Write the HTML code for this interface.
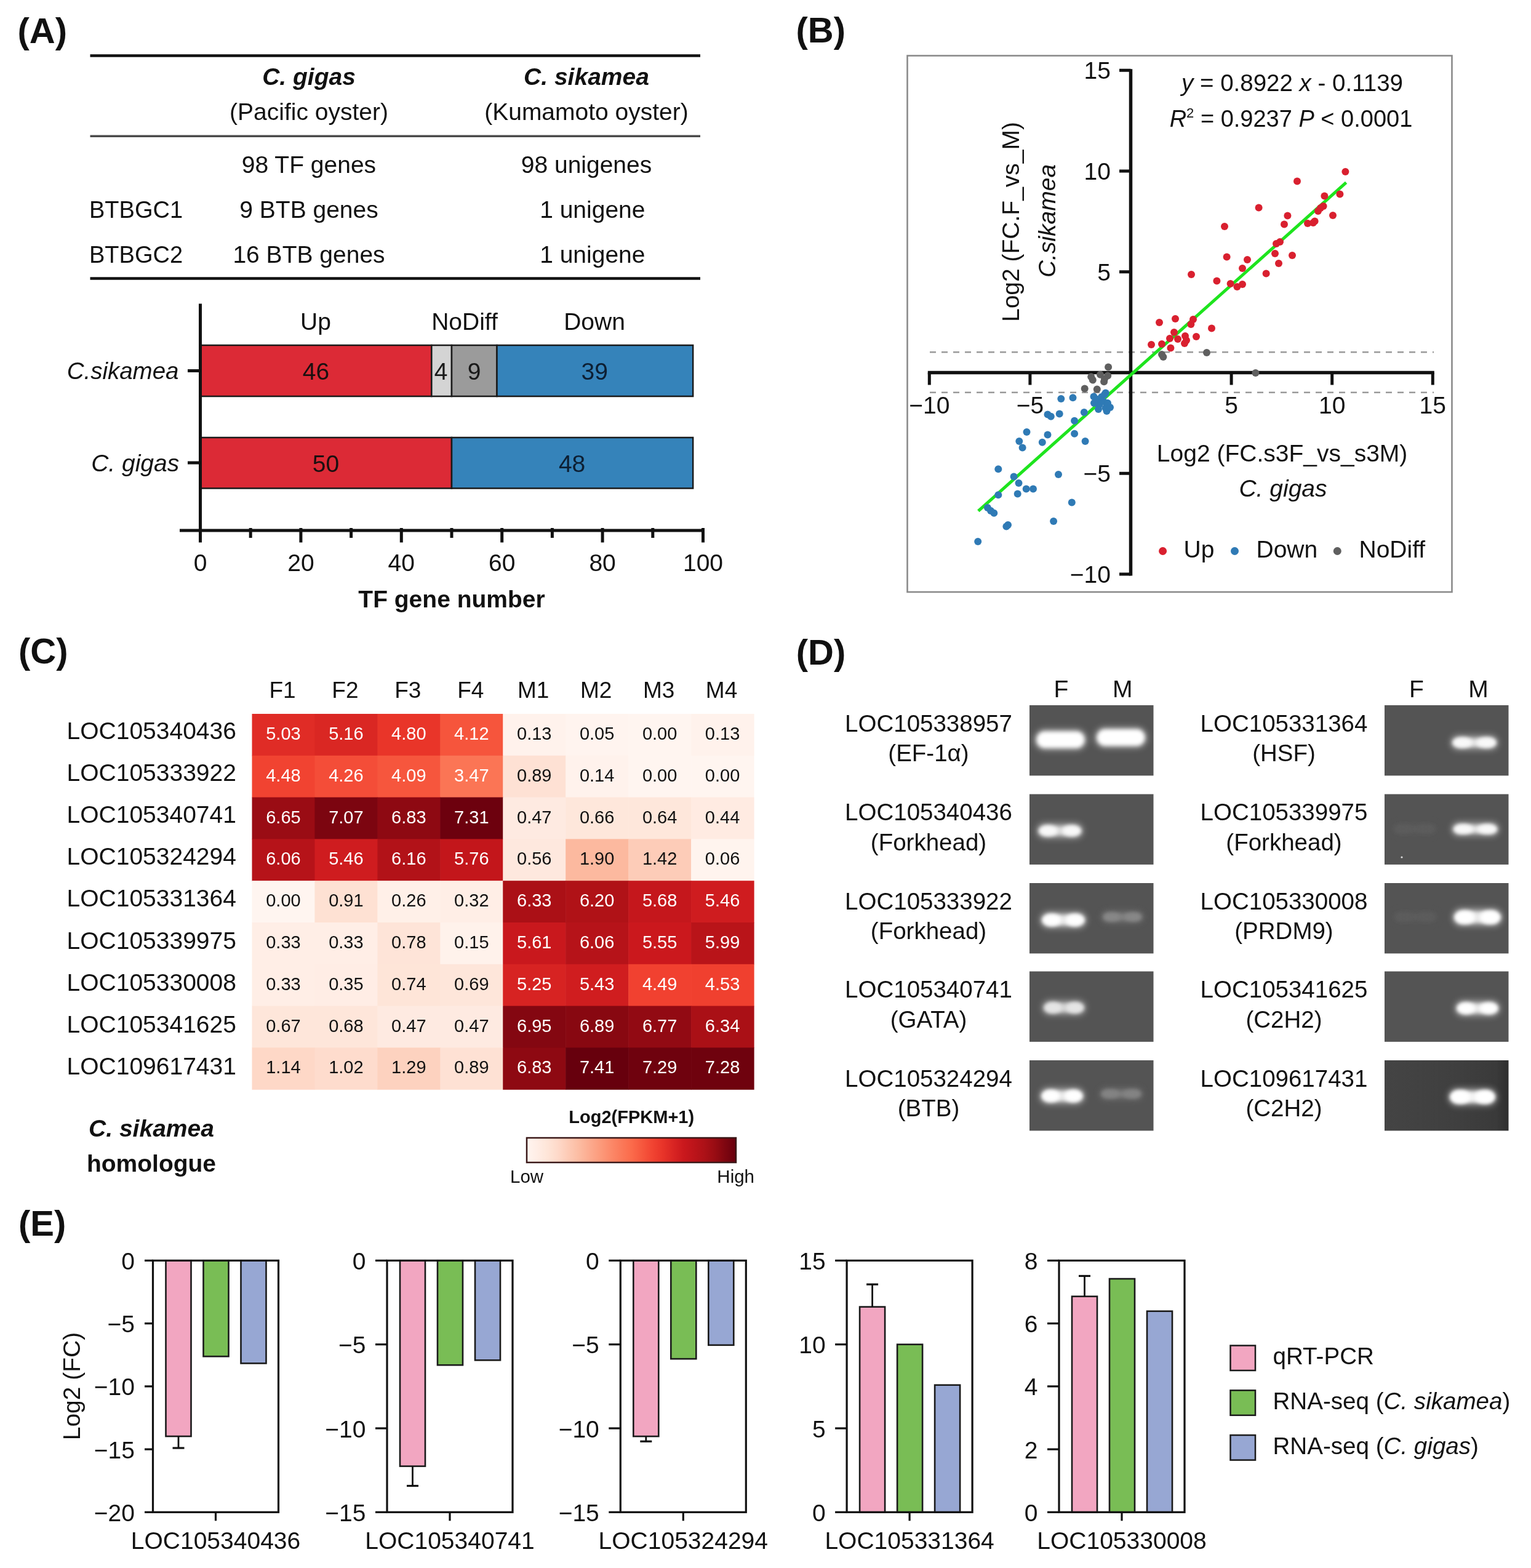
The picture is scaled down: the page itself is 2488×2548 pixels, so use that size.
<!DOCTYPE html>
<html><head><meta charset="utf-8"><title>Figure</title>
<style>
html,body{margin:0;padding:0;background:#fff;}
body{width:2488px;height:2548px;overflow:hidden;}
svg text{font-family:'Liberation Sans', Arial, Helvetica, sans-serif;}
</style></head>
<body>
<svg width="2488" height="2548" viewBox="0 0 2488 2548" style="display:block">
<rect x="0" y="0" width="2488" height="2548" fill="#fff"/>
<text x="28.5" y="69.5" font-size="58" text-anchor="start" font-weight="bold" fill="#111">(A)</text>
<line x1="146.5" y1="90.5" x2="1138" y2="90.5" stroke="#111" stroke-width="4.5"/>
<line x1="146.5" y1="221.25" x2="1138" y2="221.25" stroke="#4a4a4a" stroke-width="3.5"/>
<line x1="146.5" y1="452.5" x2="1138" y2="452.5" stroke="#111" stroke-width="4.5"/>
<text x="502" y="137.5" font-size="39" text-anchor="middle" font-weight="bold" font-style="italic" fill="#111">C. gigas</text>
<text x="953" y="137.5" font-size="39" text-anchor="middle" font-weight="bold" font-style="italic" fill="#111">C. sikamea</text>
<text x="502" y="195" font-size="39" text-anchor="middle" fill="#111">(Pacific oyster)</text>
<text x="953" y="195" font-size="39" text-anchor="middle" fill="#111">(Kumamoto oyster)</text>
<text x="502" y="281" font-size="39" text-anchor="middle" fill="#111">98 TF genes</text>
<text x="953" y="281" font-size="39" text-anchor="middle" fill="#111">98 unigenes</text>
<text x="145" y="353.75" font-size="38" text-anchor="start" fill="#111">BTBGC1</text>
<text x="502" y="353.75" font-size="39" text-anchor="middle" fill="#111">9 BTB genes</text>
<text x="962.8" y="353.75" font-size="39" text-anchor="middle" fill="#111">1 unigene</text>
<text x="145" y="426.75" font-size="38" text-anchor="start" fill="#111">BTBGC2</text>
<text x="502" y="426.75" font-size="39" text-anchor="middle" fill="#111">16 BTB genes</text>
<text x="962.8" y="426.75" font-size="39" text-anchor="middle" fill="#111">1 unigene</text>
<rect x="325.5" y="561" width="375.81999999999994" height="83" fill="#dc2a36" stroke="#1a1a1a" stroke-width="2.5"/>
<rect x="701.3199999999999" y="561" width="32.680000000000064" height="83" fill="#d4d4d4" stroke="#1a1a1a" stroke-width="2.5"/>
<rect x="734.0" y="561" width="73.52999999999997" height="83" fill="#9b9b9b" stroke="#1a1a1a" stroke-width="2.5"/>
<rect x="807.53" y="561" width="318.6299999999999" height="83" fill="#3583ba" stroke="#1a1a1a" stroke-width="2.5"/>
<rect x="325.5" y="711" width="408.5" height="82.5" fill="#dc2a36" stroke="#1a1a1a" stroke-width="2.5"/>
<rect x="734.0" y="711" width="392.15999999999985" height="82.5" fill="#3583ba" stroke="#1a1a1a" stroke-width="2.5"/>
<text x="513.5" y="617" font-size="39" text-anchor="middle" fill="#1a1010">46</text>
<text x="716.6" y="617" font-size="39" text-anchor="middle" fill="#1a1a1a">4</text>
<text x="770.7" y="617" font-size="39" text-anchor="middle" fill="#1a1a1a">9</text>
<text x="966.3" y="617" font-size="39" text-anchor="middle" fill="#0d1f33">39</text>
<text x="529.4" y="766.5" font-size="39" text-anchor="middle" fill="#1a1010">50</text>
<text x="929.6" y="766.5" font-size="39" text-anchor="middle" fill="#0d1f33">48</text>
<text x="513" y="535.7" font-size="39" text-anchor="middle" fill="#111">Up</text>
<text x="755" y="535.7" font-size="39" text-anchor="middle" fill="#111">NoDiff</text>
<text x="966" y="535.7" font-size="39" text-anchor="middle" fill="#111">Down</text>
<line x1="325.5" y1="493.5" x2="325.5" y2="863" stroke="#111" stroke-width="5"/>
<line x1="292" y1="862" x2="1143" y2="862" stroke="#111" stroke-width="5"/>
<line x1="325.5" y1="858" x2="325.5" y2="881.5" stroke="#111" stroke-width="5"/>
<text x="325.5" y="928" font-size="39" text-anchor="middle" fill="#111">0</text>
<line x1="407.2" y1="858" x2="407.2" y2="874" stroke="#111" stroke-width="5"/>
<line x1="488.9" y1="858" x2="488.9" y2="881.5" stroke="#111" stroke-width="5"/>
<text x="488.9" y="928" font-size="39" text-anchor="middle" fill="#111">20</text>
<line x1="570.6" y1="858" x2="570.6" y2="874" stroke="#111" stroke-width="5"/>
<line x1="652.3" y1="858" x2="652.3" y2="881.5" stroke="#111" stroke-width="5"/>
<text x="652.3" y="928" font-size="39" text-anchor="middle" fill="#111">40</text>
<line x1="734.0" y1="858" x2="734.0" y2="874" stroke="#111" stroke-width="5"/>
<line x1="815.7" y1="858" x2="815.7" y2="881.5" stroke="#111" stroke-width="5"/>
<text x="815.7" y="928" font-size="39" text-anchor="middle" fill="#111">60</text>
<line x1="897.4" y1="858" x2="897.4" y2="874" stroke="#111" stroke-width="5"/>
<line x1="979.1" y1="858" x2="979.1" y2="881.5" stroke="#111" stroke-width="5"/>
<text x="979.1" y="928" font-size="39" text-anchor="middle" fill="#111">80</text>
<line x1="1060.8" y1="858" x2="1060.8" y2="874" stroke="#111" stroke-width="5"/>
<line x1="1142.5" y1="858" x2="1142.5" y2="881.5" stroke="#111" stroke-width="5"/>
<text x="1142.5" y="928" font-size="39" text-anchor="middle" fill="#111">100</text>
<line x1="305" y1="602.5" x2="326" y2="602.5" stroke="#111" stroke-width="5"/>
<line x1="305" y1="752" x2="326" y2="752" stroke="#111" stroke-width="5"/>
<text x="290.5" y="616.25" font-size="38.5" text-anchor="end" font-style="italic" fill="#111">C.sikamea</text>
<text x="291.25" y="766.25" font-size="39" text-anchor="end" font-style="italic" fill="#111">C. gigas</text>
<text x="734" y="986.5" font-size="39" text-anchor="middle" font-weight="bold" fill="#111">TF gene number</text>
<text x="1293.5" y="69" font-size="58" text-anchor="start" font-weight="bold" fill="#111">(B)</text>
<rect x="1474.5" y="90.5" width="885" height="871.5" fill="none" stroke="#8a8a8a" stroke-width="2.6"/>
<line x1="1511" y1="572.25" x2="2330" y2="572.25" stroke="#9a9a9a" stroke-width="2.5" stroke-dasharray="10 9"/>
<line x1="1511" y1="637.75" x2="2330" y2="637.75" stroke="#9a9a9a" stroke-width="2.5" stroke-dasharray="10 9"/>
<line x1="1837.5" y1="112.25" x2="1837.5" y2="935.5" stroke="#111" stroke-width="5.5"/>
<line x1="1507.8" y1="605.5" x2="2330.8" y2="605.5" stroke="#111" stroke-width="5.5"/>
<line x1="1819" y1="114.25" x2="1837.5" y2="114.25" stroke="#111" stroke-width="5"/>
<text x="1805" y="128.25" font-size="39" text-anchor="end" fill="#111">15</text>
<line x1="1819" y1="278.0" x2="1837.5" y2="278.0" stroke="#111" stroke-width="5"/>
<text x="1805" y="292.0" font-size="39" text-anchor="end" fill="#111">10</text>
<line x1="1819" y1="441.75" x2="1837.5" y2="441.75" stroke="#111" stroke-width="5"/>
<text x="1805" y="455.75" font-size="39" text-anchor="end" fill="#111">5</text>
<line x1="1819" y1="769.25" x2="1837.5" y2="769.25" stroke="#111" stroke-width="5"/>
<text x="1805" y="783.25" font-size="39" text-anchor="end" fill="#111">−5</text>
<line x1="1819" y1="933.0" x2="1837.5" y2="933.0" stroke="#111" stroke-width="5"/>
<text x="1805" y="947.0" font-size="39" text-anchor="end" fill="#111">−10</text>
<line x1="1510.3" y1="605.5" x2="1510.3" y2="625.5" stroke="#111" stroke-width="5"/>
<text x="1510.3" y="672" font-size="39" text-anchor="middle" fill="#111">−10</text>
<line x1="1673.9" y1="605.5" x2="1673.9" y2="625.5" stroke="#111" stroke-width="5"/>
<text x="1673.9" y="672" font-size="39" text-anchor="middle" fill="#111">−5</text>
<line x1="2001.1" y1="605.5" x2="2001.1" y2="625.5" stroke="#111" stroke-width="5"/>
<text x="2001.1" y="672" font-size="39" text-anchor="middle" fill="#111">5</text>
<line x1="2164.7" y1="605.5" x2="2164.7" y2="625.5" stroke="#111" stroke-width="5"/>
<text x="2164.7" y="672" font-size="39" text-anchor="middle" fill="#111">10</text>
<line x1="2328.3" y1="605.5" x2="2328.3" y2="625.5" stroke="#111" stroke-width="5"/>
<text x="2328.3" y="672" font-size="39" text-anchor="middle" fill="#111">15</text>
<line x1="1589.8096" y1="830.4222185" x2="2187.604" y2="296.58104000000003" stroke="#1ee41e" stroke-width="5" stroke-linecap="butt"/>
<circle cx="1589.2" cy="880" r="6" fill="#2f7ab5"/>
<circle cx="1638" cy="853" r="6" fill="#2f7ab5"/>
<circle cx="1635.4" cy="855.6" r="6" fill="#2f7ab5"/>
<circle cx="1712.1" cy="846.9" r="6" fill="#2f7ab5"/>
<circle cx="1741.8" cy="816.4" r="6" fill="#2f7ab5"/>
<circle cx="1604.9" cy="825.1" r="6" fill="#2f7ab5"/>
<circle cx="1615.3" cy="833.8" r="6" fill="#2f7ab5"/>
<circle cx="1622.3" cy="804.2" r="6" fill="#2f7ab5"/>
<circle cx="1653.7" cy="802.4" r="6" fill="#2f7ab5"/>
<circle cx="1667.7" cy="794.6" r="6" fill="#2f7ab5"/>
<circle cx="1679" cy="794.6" r="6" fill="#2f7ab5"/>
<circle cx="1647.6" cy="774.5" r="6" fill="#2f7ab5"/>
<circle cx="1655.5" cy="785" r="6" fill="#2f7ab5"/>
<circle cx="1622.3" cy="762.3" r="6" fill="#2f7ab5"/>
<circle cx="1720" cy="771" r="6" fill="#2f7ab5"/>
<circle cx="1656.3" cy="717" r="6" fill="#2f7ab5"/>
<circle cx="1661.6" cy="727.4" r="6" fill="#2f7ab5"/>
<circle cx="1668.5" cy="702.1" r="6" fill="#2f7ab5"/>
<circle cx="1702.5" cy="706.5" r="6" fill="#2f7ab5"/>
<circle cx="1693.8" cy="718.7" r="6" fill="#2f7ab5"/>
<circle cx="1746.1" cy="704.8" r="6" fill="#2f7ab5"/>
<circle cx="1763.6" cy="717" r="6" fill="#2f7ab5"/>
<circle cx="1746.1" cy="683.8" r="6" fill="#2f7ab5"/>
<circle cx="1761.8" cy="669.9" r="6" fill="#2f7ab5"/>
<circle cx="1702.5" cy="673.4" r="6" fill="#2f7ab5"/>
<circle cx="1707.8" cy="676.8" r="6" fill="#2f7ab5"/>
<circle cx="1721.7" cy="672.5" r="6" fill="#2f7ab5"/>
<circle cx="1724.3" cy="648.1" r="6" fill="#2f7ab5"/>
<circle cx="1743.5" cy="646.3" r="6" fill="#2f7ab5"/>
<circle cx="1777.5" cy="644.6" r="6" fill="#2f7ab5"/>
<circle cx="1786.3" cy="657.7" r="6" fill="#2f7ab5"/>
<circle cx="1796.7" cy="662.9" r="6" fill="#2f7ab5"/>
<circle cx="1798.5" cy="668.1" r="6" fill="#2f7ab5"/>
<circle cx="1793.2" cy="652.4" r="6" fill="#2f7ab5"/>
<circle cx="1782.8" cy="649" r="6" fill="#2f7ab5"/>
<circle cx="1796.7" cy="638.5" r="6" fill="#2f7ab5"/>
<circle cx="1610" cy="830" r="6" fill="#2f7ab5"/>
<circle cx="1790" cy="645" r="6" fill="#2f7ab5"/>
<circle cx="1800" cy="655" r="6" fill="#2f7ab5"/>
<circle cx="1785" cy="665" r="6" fill="#2f7ab5"/>
<circle cx="1795" cy="641" r="6" fill="#2f7ab5"/>
<circle cx="1778" cy="655" r="6" fill="#2f7ab5"/>
<circle cx="1804" cy="662" r="6" fill="#2f7ab5"/>
<circle cx="1961" cy="573" r="6" fill="#5f5f5f"/>
<circle cx="1888" cy="576" r="6" fill="#5f5f5f"/>
<circle cx="1890.4" cy="580" r="6" fill="#5f5f5f"/>
<circle cx="2040.4" cy="606" r="6" fill="#5f5f5f"/>
<circle cx="1801.1" cy="596.6" r="6" fill="#5f5f5f"/>
<circle cx="1773.2" cy="612.3" r="6" fill="#5f5f5f"/>
<circle cx="1775.8" cy="617.6" r="6" fill="#5f5f5f"/>
<circle cx="1788" cy="608.8" r="6" fill="#5f5f5f"/>
<circle cx="1800.2" cy="610.6" r="6" fill="#5f5f5f"/>
<circle cx="1794.1" cy="620.2" r="6" fill="#5f5f5f"/>
<circle cx="1762.7" cy="631.5" r="6" fill="#5f5f5f"/>
<circle cx="1782.8" cy="632.4" r="6" fill="#5f5f5f"/>
<circle cx="1795" cy="615.8" r="6" fill="#5f5f5f"/>
<circle cx="2186.4" cy="279" r="6" fill="#d9202f"/>
<circle cx="2108" cy="294.6" r="6" fill="#d9202f"/>
<circle cx="2152.4" cy="318.4" r="6" fill="#d9202f"/>
<circle cx="2177.4" cy="315.4" r="6" fill="#d9202f"/>
<circle cx="2045.6" cy="337.6" r="6" fill="#d9202f"/>
<circle cx="2150.6" cy="335" r="6" fill="#d9202f"/>
<circle cx="2142" cy="343" r="6" fill="#d9202f"/>
<circle cx="2092.4" cy="350.6" r="6" fill="#d9202f"/>
<circle cx="2166" cy="350" r="6" fill="#d9202f"/>
<circle cx="2087" cy="364.4" r="6" fill="#d9202f"/>
<circle cx="2136.6" cy="359.4" r="6" fill="#d9202f"/>
<circle cx="2125" cy="363" r="6" fill="#d9202f"/>
<circle cx="1990" cy="368" r="6" fill="#d9202f"/>
<circle cx="2080" cy="393" r="6" fill="#d9202f"/>
<circle cx="2074" cy="396" r="6" fill="#d9202f"/>
<circle cx="2072" cy="412" r="6" fill="#d9202f"/>
<circle cx="2100" cy="415" r="6" fill="#d9202f"/>
<circle cx="1993.6" cy="417.6" r="6" fill="#d9202f"/>
<circle cx="2027" cy="422" r="6" fill="#d9202f"/>
<circle cx="2078" cy="428" r="6" fill="#d9202f"/>
<circle cx="2019" cy="436" r="6" fill="#d9202f"/>
<circle cx="1936" cy="446" r="6" fill="#d9202f"/>
<circle cx="2057.6" cy="444.4" r="6" fill="#d9202f"/>
<circle cx="1977.4" cy="456.6" r="6" fill="#d9202f"/>
<circle cx="1999.6" cy="461" r="6" fill="#d9202f"/>
<circle cx="2010.4" cy="466" r="6" fill="#d9202f"/>
<circle cx="2019" cy="462" r="6" fill="#d9202f"/>
<circle cx="1910" cy="518" r="6" fill="#d9202f"/>
<circle cx="1884" cy="524" r="6" fill="#d9202f"/>
<circle cx="1939" cy="519" r="6" fill="#d9202f"/>
<circle cx="1935.4" cy="527" r="6" fill="#d9202f"/>
<circle cx="1969" cy="533.4" r="6" fill="#d9202f"/>
<circle cx="1908" cy="540" r="6" fill="#d9202f"/>
<circle cx="1944" cy="547" r="6" fill="#d9202f"/>
<circle cx="1926" cy="546" r="6" fill="#d9202f"/>
<circle cx="1901" cy="550" r="6" fill="#d9202f"/>
<circle cx="1914" cy="551" r="6" fill="#d9202f"/>
<circle cx="1928" cy="553" r="6" fill="#d9202f"/>
<circle cx="1925" cy="558" r="6" fill="#d9202f"/>
<circle cx="1871" cy="560" r="6" fill="#d9202f"/>
<circle cx="1888" cy="559" r="6" fill="#d9202f"/>
<circle cx="1902.4" cy="565.4" r="6" fill="#d9202f"/>
<circle cx="2146" cy="338" r="6" fill="#d9202f"/>
<circle cx="2134" cy="362" r="6" fill="#d9202f"/>
<text x="2100" y="148" font-size="38.5" text-anchor="middle" fill="#111"><tspan font-style="italic">y</tspan> = 0.8922 <tspan font-style="italic">x</tspan> - 0.1139</text>
<text x="2098" y="205.5" font-size="38" text-anchor="middle" fill="#111"><tspan font-style="italic">R</tspan><tspan font-size="22" dy="-15">2</tspan><tspan dy="15"> = 0.9237 </tspan><tspan font-style="italic">P</tspan> &lt; 0.0001</text>
<text transform="translate(1656,360.5) rotate(-90)" x="0" y="0" font-size="39" text-anchor="middle" fill="#111">Log2 (FC.F_vs_M)</text>
<text transform="translate(1715,359) rotate(-90)" x="0" y="0" font-size="39" text-anchor="middle" font-style="italic" fill="#111">C.sikamea</text>
<text x="2083.6" y="750" font-size="39" text-anchor="middle" fill="#111">Log2 (FC.s3F_vs_s3M)</text>
<text x="2085" y="807" font-size="39" text-anchor="middle" font-style="italic" fill="#111">C. gigas</text>
<circle cx="1889.6" cy="895.5" r="6.5" fill="#d9202f"/>
<circle cx="2006.5" cy="895.5" r="6.5" fill="#2f7ab5"/>
<circle cx="2173.3" cy="895.5" r="6.5" fill="#5f5f5f"/>
<text x="1923.5" y="905.5" font-size="39" text-anchor="start" fill="#111">Up</text>
<text x="2041.5" y="905.5" font-size="39" text-anchor="start" fill="#111">Down</text>
<text x="2208.5" y="905.5" font-size="39" text-anchor="start" fill="#111">NoDiff</text>
<text x="30" y="1078" font-size="58" text-anchor="start" font-weight="bold" fill="#111">(C)</text>
<text x="458.97" y="1133.5" font-size="37" text-anchor="middle" fill="#111">F1</text>
<text x="560.91" y="1133.5" font-size="37" text-anchor="middle" fill="#111">F2</text>
<text x="662.85" y="1133.5" font-size="37" text-anchor="middle" fill="#111">F3</text>
<text x="764.79" y="1133.5" font-size="37" text-anchor="middle" fill="#111">F4</text>
<text x="866.73" y="1133.5" font-size="37" text-anchor="middle" fill="#111">M1</text>
<text x="968.67" y="1133.5" font-size="37" text-anchor="middle" fill="#111">M2</text>
<text x="1070.6100000000001" y="1133.5" font-size="37" text-anchor="middle" fill="#111">M3</text>
<text x="1172.55" y="1133.5" font-size="37" text-anchor="middle" fill="#111">M4</text>
<text x="108.5" y="1200.5" font-size="39" text-anchor="start" fill="#111">LOC105340436</text>
<rect x="409.50" y="1160.00" width="102.54" height="68.40" fill="#e02c26"/>
<rect x="511.44" y="1160.00" width="102.54" height="68.40" fill="#da2723"/>
<rect x="613.38" y="1160.00" width="102.54" height="68.40" fill="#e93529"/>
<rect x="715.32" y="1160.00" width="102.54" height="68.40" fill="#f6553c"/>
<rect x="817.26" y="1160.00" width="102.54" height="68.40" fill="#fff2ec"/>
<rect x="919.20" y="1160.00" width="102.54" height="68.40" fill="#fff4ef"/>
<rect x="1021.14" y="1160.00" width="102.54" height="68.40" fill="#fff5f0"/>
<rect x="1123.08" y="1160.00" width="102.54" height="68.40" fill="#fff2ec"/>
<text x="108.5" y="1268.7" font-size="39" text-anchor="start" fill="#111">LOC105333922</text>
<rect x="409.50" y="1227.80" width="102.54" height="68.40" fill="#f14331"/>
<rect x="511.44" y="1227.80" width="102.54" height="68.40" fill="#f44d38"/>
<rect x="613.38" y="1227.80" width="102.54" height="68.40" fill="#f6563d"/>
<rect x="715.32" y="1227.80" width="102.54" height="68.40" fill="#fb7555"/>
<rect x="817.26" y="1227.80" width="102.54" height="68.40" fill="#fee1d4"/>
<rect x="919.20" y="1227.80" width="102.54" height="68.40" fill="#fff2ec"/>
<rect x="1021.14" y="1227.80" width="102.54" height="68.40" fill="#fff5f0"/>
<rect x="1123.08" y="1227.80" width="102.54" height="68.40" fill="#fff5f0"/>
<text x="108.5" y="1336.9" font-size="39" text-anchor="start" fill="#111">LOC105340741</text>
<rect x="409.50" y="1295.60" width="102.54" height="68.40" fill="#9a0c14"/>
<rect x="511.44" y="1295.60" width="102.54" height="68.40" fill="#7c0510"/>
<rect x="613.38" y="1295.60" width="102.54" height="68.40" fill="#8e0912"/>
<rect x="715.32" y="1295.60" width="102.54" height="68.40" fill="#6d010e"/>
<rect x="817.26" y="1295.60" width="102.54" height="68.40" fill="#feeae1"/>
<rect x="919.20" y="1295.60" width="102.54" height="68.40" fill="#fee7db"/>
<rect x="1021.14" y="1295.60" width="102.54" height="68.40" fill="#fee7db"/>
<rect x="1123.08" y="1295.60" width="102.54" height="68.40" fill="#ffebe2"/>
<text x="108.5" y="1405.1" font-size="39" text-anchor="start" fill="#111">LOC105324294</text>
<rect x="409.50" y="1363.40" width="102.54" height="68.40" fill="#b61319"/>
<rect x="511.44" y="1363.40" width="102.54" height="68.40" fill="#cf1c1f"/>
<rect x="613.38" y="1363.40" width="102.54" height="68.40" fill="#b21218"/>
<rect x="715.32" y="1363.40" width="102.54" height="68.40" fill="#c3161b"/>
<rect x="817.26" y="1363.40" width="102.54" height="68.40" fill="#fee8de"/>
<rect x="919.20" y="1363.40" width="102.54" height="68.40" fill="#fcb99f"/>
<rect x="1021.14" y="1363.40" width="102.54" height="68.40" fill="#fdccb8"/>
<rect x="1123.08" y="1363.40" width="102.54" height="68.40" fill="#fff4ee"/>
<text x="108.5" y="1473.3" font-size="39" text-anchor="start" fill="#111">LOC105331364</text>
<rect x="409.50" y="1431.20" width="102.54" height="68.40" fill="#fff5f0"/>
<rect x="511.44" y="1431.20" width="102.54" height="68.40" fill="#fee1d3"/>
<rect x="613.38" y="1431.20" width="102.54" height="68.40" fill="#fff0e8"/>
<rect x="715.32" y="1431.20" width="102.54" height="68.40" fill="#ffeee6"/>
<rect x="817.26" y="1431.20" width="102.54" height="68.40" fill="#ab1016"/>
<rect x="919.20" y="1431.20" width="102.54" height="68.40" fill="#b01217"/>
<rect x="1021.14" y="1431.20" width="102.54" height="68.40" fill="#c5171c"/>
<rect x="1123.08" y="1431.20" width="102.54" height="68.40" fill="#cf1c1f"/>
<text x="108.5" y="1541.5" font-size="39" text-anchor="start" fill="#111">LOC105339975</text>
<rect x="409.50" y="1499.00" width="102.54" height="68.40" fill="#ffeee6"/>
<rect x="511.44" y="1499.00" width="102.54" height="68.40" fill="#ffeee6"/>
<rect x="613.38" y="1499.00" width="102.54" height="68.40" fill="#fee4d8"/>
<rect x="715.32" y="1499.00" width="102.54" height="68.40" fill="#fff2eb"/>
<rect x="817.26" y="1499.00" width="102.54" height="68.40" fill="#c9181d"/>
<rect x="919.20" y="1499.00" width="102.54" height="68.40" fill="#b61319"/>
<rect x="1021.14" y="1499.00" width="102.54" height="68.40" fill="#cb181d"/>
<rect x="1123.08" y="1499.00" width="102.54" height="68.40" fill="#b91419"/>
<text x="108.5" y="1609.7" font-size="39" text-anchor="start" fill="#111">LOC105330008</text>
<rect x="409.50" y="1566.80" width="102.54" height="68.40" fill="#ffeee6"/>
<rect x="511.44" y="1566.80" width="102.54" height="68.40" fill="#ffede5"/>
<rect x="613.38" y="1566.80" width="102.54" height="68.40" fill="#fee5d8"/>
<rect x="715.32" y="1566.80" width="102.54" height="68.40" fill="#fee6da"/>
<rect x="817.26" y="1566.80" width="102.54" height="68.40" fill="#d72322"/>
<rect x="919.20" y="1566.80" width="102.54" height="68.40" fill="#d01d1f"/>
<rect x="1021.14" y="1566.80" width="102.54" height="68.40" fill="#f14130"/>
<rect x="1123.08" y="1566.80" width="102.54" height="68.40" fill="#f0402f"/>
<text x="108.5" y="1677.9" font-size="39" text-anchor="start" fill="#111">LOC105341625</text>
<rect x="409.50" y="1634.60" width="102.54" height="68.40" fill="#fee6da"/>
<rect x="511.44" y="1634.60" width="102.54" height="68.40" fill="#fee6da"/>
<rect x="613.38" y="1634.60" width="102.54" height="68.40" fill="#feeae1"/>
<rect x="715.32" y="1634.60" width="102.54" height="68.40" fill="#feeae1"/>
<rect x="817.26" y="1634.60" width="102.54" height="68.40" fill="#840711"/>
<rect x="919.20" y="1634.60" width="102.54" height="68.40" fill="#880811"/>
<rect x="1021.14" y="1634.60" width="102.54" height="68.40" fill="#920a13"/>
<rect x="1123.08" y="1634.60" width="102.54" height="68.40" fill="#aa1016"/>
<text x="108.5" y="1746.1" font-size="39" text-anchor="start" fill="#111">LOC109617431</text>
<rect x="409.50" y="1702.40" width="102.54" height="68.40" fill="#fed8c7"/>
<rect x="511.44" y="1702.40" width="102.54" height="68.40" fill="#fedccd"/>
<rect x="613.38" y="1702.40" width="102.54" height="68.40" fill="#fdd2bf"/>
<rect x="715.32" y="1702.40" width="102.54" height="68.40" fill="#fee1d4"/>
<rect x="817.26" y="1702.40" width="102.54" height="68.40" fill="#8e0912"/>
<rect x="919.20" y="1702.40" width="102.54" height="68.40" fill="#67000d"/>
<rect x="1021.14" y="1702.40" width="102.54" height="68.40" fill="#6f020e"/>
<rect x="1123.08" y="1702.40" width="102.54" height="68.40" fill="#6f020e"/>
<text x="460.47" y="1201.9" font-size="29" text-anchor="middle" fill="#ffffff">5.03</text>
<text x="562.41" y="1201.9" font-size="29" text-anchor="middle" fill="#ffffff">5.16</text>
<text x="664.35" y="1201.9" font-size="29" text-anchor="middle" fill="#ffffff">4.80</text>
<text x="766.29" y="1201.9" font-size="29" text-anchor="middle" fill="#ffffff">4.12</text>
<text x="868.23" y="1201.9" font-size="29" text-anchor="middle" fill="#111111">0.13</text>
<text x="970.17" y="1201.9" font-size="29" text-anchor="middle" fill="#111111">0.05</text>
<text x="1072.11" y="1201.9" font-size="29" text-anchor="middle" fill="#111111">0.00</text>
<text x="1174.05" y="1201.9" font-size="29" text-anchor="middle" fill="#111111">0.13</text>
<text x="460.47" y="1269.7" font-size="29" text-anchor="middle" fill="#ffffff">4.48</text>
<text x="562.41" y="1269.7" font-size="29" text-anchor="middle" fill="#ffffff">4.26</text>
<text x="664.35" y="1269.7" font-size="29" text-anchor="middle" fill="#ffffff">4.09</text>
<text x="766.29" y="1269.7" font-size="29" text-anchor="middle" fill="#ffffff">3.47</text>
<text x="868.23" y="1269.7" font-size="29" text-anchor="middle" fill="#111111">0.89</text>
<text x="970.17" y="1269.7" font-size="29" text-anchor="middle" fill="#111111">0.14</text>
<text x="1072.11" y="1269.7" font-size="29" text-anchor="middle" fill="#111111">0.00</text>
<text x="1174.05" y="1269.7" font-size="29" text-anchor="middle" fill="#111111">0.00</text>
<text x="460.47" y="1337.5" font-size="29" text-anchor="middle" fill="#ffffff">6.65</text>
<text x="562.41" y="1337.5" font-size="29" text-anchor="middle" fill="#ffffff">7.07</text>
<text x="664.35" y="1337.5" font-size="29" text-anchor="middle" fill="#ffffff">6.83</text>
<text x="766.29" y="1337.5" font-size="29" text-anchor="middle" fill="#ffffff">7.31</text>
<text x="868.23" y="1337.5" font-size="29" text-anchor="middle" fill="#111111">0.47</text>
<text x="970.17" y="1337.5" font-size="29" text-anchor="middle" fill="#111111">0.66</text>
<text x="1072.11" y="1337.5" font-size="29" text-anchor="middle" fill="#111111">0.64</text>
<text x="1174.05" y="1337.5" font-size="29" text-anchor="middle" fill="#111111">0.44</text>
<text x="460.47" y="1405.3" font-size="29" text-anchor="middle" fill="#ffffff">6.06</text>
<text x="562.41" y="1405.3" font-size="29" text-anchor="middle" fill="#ffffff">5.46</text>
<text x="664.35" y="1405.3" font-size="29" text-anchor="middle" fill="#ffffff">6.16</text>
<text x="766.29" y="1405.3" font-size="29" text-anchor="middle" fill="#ffffff">5.76</text>
<text x="868.23" y="1405.3" font-size="29" text-anchor="middle" fill="#111111">0.56</text>
<text x="970.17" y="1405.3" font-size="29" text-anchor="middle" fill="#111111">1.90</text>
<text x="1072.11" y="1405.3" font-size="29" text-anchor="middle" fill="#111111">1.42</text>
<text x="1174.05" y="1405.3" font-size="29" text-anchor="middle" fill="#111111">0.06</text>
<text x="460.47" y="1473.1" font-size="29" text-anchor="middle" fill="#111111">0.00</text>
<text x="562.41" y="1473.1" font-size="29" text-anchor="middle" fill="#111111">0.91</text>
<text x="664.35" y="1473.1" font-size="29" text-anchor="middle" fill="#111111">0.26</text>
<text x="766.29" y="1473.1" font-size="29" text-anchor="middle" fill="#111111">0.32</text>
<text x="868.23" y="1473.1" font-size="29" text-anchor="middle" fill="#ffffff">6.33</text>
<text x="970.17" y="1473.1" font-size="29" text-anchor="middle" fill="#ffffff">6.20</text>
<text x="1072.11" y="1473.1" font-size="29" text-anchor="middle" fill="#ffffff">5.68</text>
<text x="1174.05" y="1473.1" font-size="29" text-anchor="middle" fill="#ffffff">5.46</text>
<text x="460.47" y="1540.9" font-size="29" text-anchor="middle" fill="#111111">0.33</text>
<text x="562.41" y="1540.9" font-size="29" text-anchor="middle" fill="#111111">0.33</text>
<text x="664.35" y="1540.9" font-size="29" text-anchor="middle" fill="#111111">0.78</text>
<text x="766.29" y="1540.9" font-size="29" text-anchor="middle" fill="#111111">0.15</text>
<text x="868.23" y="1540.9" font-size="29" text-anchor="middle" fill="#ffffff">5.61</text>
<text x="970.17" y="1540.9" font-size="29" text-anchor="middle" fill="#ffffff">6.06</text>
<text x="1072.11" y="1540.9" font-size="29" text-anchor="middle" fill="#ffffff">5.55</text>
<text x="1174.05" y="1540.9" font-size="29" text-anchor="middle" fill="#ffffff">5.99</text>
<text x="460.47" y="1608.7" font-size="29" text-anchor="middle" fill="#111111">0.33</text>
<text x="562.41" y="1608.7" font-size="29" text-anchor="middle" fill="#111111">0.35</text>
<text x="664.35" y="1608.7" font-size="29" text-anchor="middle" fill="#111111">0.74</text>
<text x="766.29" y="1608.7" font-size="29" text-anchor="middle" fill="#111111">0.69</text>
<text x="868.23" y="1608.7" font-size="29" text-anchor="middle" fill="#ffffff">5.25</text>
<text x="970.17" y="1608.7" font-size="29" text-anchor="middle" fill="#ffffff">5.43</text>
<text x="1072.11" y="1608.7" font-size="29" text-anchor="middle" fill="#ffffff">4.49</text>
<text x="1174.05" y="1608.7" font-size="29" text-anchor="middle" fill="#ffffff">4.53</text>
<text x="460.47" y="1676.5" font-size="29" text-anchor="middle" fill="#111111">0.67</text>
<text x="562.41" y="1676.5" font-size="29" text-anchor="middle" fill="#111111">0.68</text>
<text x="664.35" y="1676.5" font-size="29" text-anchor="middle" fill="#111111">0.47</text>
<text x="766.29" y="1676.5" font-size="29" text-anchor="middle" fill="#111111">0.47</text>
<text x="868.23" y="1676.5" font-size="29" text-anchor="middle" fill="#ffffff">6.95</text>
<text x="970.17" y="1676.5" font-size="29" text-anchor="middle" fill="#ffffff">6.89</text>
<text x="1072.11" y="1676.5" font-size="29" text-anchor="middle" fill="#ffffff">6.77</text>
<text x="1174.05" y="1676.5" font-size="29" text-anchor="middle" fill="#ffffff">6.34</text>
<text x="460.47" y="1744.3" font-size="29" text-anchor="middle" fill="#111111">1.14</text>
<text x="562.41" y="1744.3" font-size="29" text-anchor="middle" fill="#111111">1.02</text>
<text x="664.35" y="1744.3" font-size="29" text-anchor="middle" fill="#111111">1.29</text>
<text x="766.29" y="1744.3" font-size="29" text-anchor="middle" fill="#111111">0.89</text>
<text x="868.23" y="1744.3" font-size="29" text-anchor="middle" fill="#ffffff">6.83</text>
<text x="970.17" y="1744.3" font-size="29" text-anchor="middle" fill="#ffffff">7.41</text>
<text x="1072.11" y="1744.3" font-size="29" text-anchor="middle" fill="#ffffff">7.29</text>
<text x="1174.05" y="1744.3" font-size="29" text-anchor="middle" fill="#ffffff">7.28</text>
<defs><linearGradient id="cbar" x1="0" x2="1" y1="0" y2="0"><stop offset="0.00" stop-color="#fff5f0"/><stop offset="0.05" stop-color="#ffede5"/><stop offset="0.10" stop-color="#fee5d8"/><stop offset="0.15" stop-color="#fed9c9"/><stop offset="0.20" stop-color="#fdcab5"/><stop offset="0.25" stop-color="#fcbca2"/><stop offset="0.30" stop-color="#fcab8f"/><stop offset="0.35" stop-color="#fc9b7c"/><stop offset="0.40" stop-color="#fc8a6a"/><stop offset="0.45" stop-color="#fb7a5a"/><stop offset="0.50" stop-color="#fb6b4b"/><stop offset="0.55" stop-color="#f6583e"/><stop offset="0.60" stop-color="#f14432"/><stop offset="0.65" stop-color="#e83429"/><stop offset="0.70" stop-color="#d92523"/><stop offset="0.75" stop-color="#ca181d"/><stop offset="0.80" stop-color="#bc141a"/><stop offset="0.85" stop-color="#ac1117"/><stop offset="0.90" stop-color="#980c13"/><stop offset="0.95" stop-color="#7e0610"/><stop offset="1.00" stop-color="#67000d"/></linearGradient></defs>
<rect x="856" y="1849" width="340" height="40" fill="url(#cbar)" stroke="#3a1818" stroke-width="2.5"/>
<text x="1026.25" y="1824.5" font-size="29" text-anchor="middle" font-weight="bold" fill="#111">Log2(FPKM+1)</text>
<text x="829" y="1921.5" font-size="29.5" text-anchor="start" fill="#111">Low</text>
<text x="1226" y="1921.5" font-size="29.5" text-anchor="end" fill="#111">High</text>
<text x="246" y="1847" font-size="39" text-anchor="middle" font-weight="bold" font-style="italic" fill="#111">C. sikamea</text>
<text x="246" y="1903.75" font-size="39" text-anchor="middle" font-weight="bold" fill="#111">homologue</text>
<text x="1293.75" y="1079.5" font-size="58" text-anchor="start" font-weight="bold" fill="#111">(D)</text>
<text x="1724.4" y="1133" font-size="39" text-anchor="middle" fill="#111">F</text>
<text x="1824.3" y="1133" font-size="39" text-anchor="middle" fill="#111">M</text>
<text x="2302" y="1132.5" font-size="39" text-anchor="middle" fill="#111">F</text>
<text x="2402.5" y="1132.5" font-size="39" text-anchor="middle" fill="#111">M</text>
<defs><filter id="blur4" x="-50%" y="-100%" width="200%" height="300%"><feGaussianBlur stdDeviation="3.2"/></filter><filter id="blur6" x="-50%" y="-100%" width="200%" height="300%"><feGaussianBlur stdDeviation="5"/></filter></defs>
<defs><linearGradient id="gel5" x1="0" x2="1" y1="0" y2="0"><stop offset="0" stop-color="#444"/><stop offset="0.6" stop-color="#3f3f3f"/><stop offset="0.9" stop-color="#3a3a3a"/><stop offset="1" stop-color="#2e2e2e"/></linearGradient></defs>
<rect x="1673" y="1146" width="201.5" height="114.4" fill="#545454"/>
<svg x="1673" y="1146" width="201.5" height="114.4" overflow="hidden"><g transform="translate(-1673,-1146)">
<rect x="1679.5" y="1183.5" width="88" height="37" rx="18.5" fill="#ffffff" opacity="0.3" filter="url(#blur6)"/>
<rect x="1684.5" y="1188.5" width="78" height="27" rx="13.5" fill="#ffffff" filter="url(#blur4)"/>
<rect x="1777.5" y="1180.0" width="88" height="37" rx="18.5" fill="#ffffff" opacity="0.3" filter="url(#blur6)"/>
<rect x="1782.5" y="1185.0" width="78" height="27" rx="13.5" fill="#ffffff" filter="url(#blur4)"/>
</g></svg>
<text x="1509" y="1188.8" font-size="38.5" text-anchor="middle" fill="#111">LOC105338957</text>
<text x="1509" y="1237" font-size="38.5" text-anchor="middle" fill="#111">(EF-1α)</text>
<rect x="2250" y="1146" width="201.5" height="114.4" fill="#545454"/>
<svg x="2250" y="1146" width="201.5" height="114.4" overflow="hidden"><g transform="translate(-2250,-1146)">
<rect x="2356.0" y="1193.3" width="80" height="27" rx="13.5" fill="#f9f9f9" opacity="0.3" filter="url(#blur6)"/>
<rect x="2363.0" y="1199.8" width="66" height="14" rx="8.5" fill="#e2e2e2" filter="url(#blur4)"/>
<ellipse cx="2376.4" cy="1206.8" rx="16.1" ry="8.5" fill="#f9f9f9" filter="url(#blur4)"/>
<ellipse cx="2415.6" cy="1206.8" rx="16.1" ry="8.5" fill="#f9f9f9" filter="url(#blur4)"/>
</g></svg>
<text x="2086.5" y="1188.8" font-size="38.5" text-anchor="middle" fill="#111">LOC105331364</text>
<text x="2086.5" y="1237" font-size="38.5" text-anchor="middle" fill="#111">(HSF)</text>
<rect x="1673" y="1290.5" width="201.5" height="114.4" fill="#545454"/>
<svg x="1673" y="1290.5" width="201.5" height="114.4" overflow="hidden"><g transform="translate(-1673,-1290.5)">
<rect x="1683.5" y="1336.0" width="78" height="28" rx="14.0" fill="#f9f9f9" opacity="0.3" filter="url(#blur6)"/>
<rect x="1690.5" y="1342.5" width="64" height="15" rx="9.0" fill="#d8d8d8" filter="url(#blur4)"/>
<ellipse cx="1703.46" cy="1350" rx="15.64" ry="9.0" fill="#f9f9f9" filter="url(#blur4)"/>
<ellipse cx="1741.54" cy="1350" rx="15.64" ry="9.0" fill="#f9f9f9" filter="url(#blur4)"/>
</g></svg>
<text x="1509" y="1333.3" font-size="38.5" text-anchor="middle" fill="#111">LOC105340436</text>
<text x="1509" y="1381.5" font-size="38.5" text-anchor="middle" fill="#111">(Forkhead)</text>
<rect x="2250" y="1290.5" width="201.5" height="114.4" fill="#545454"/>
<svg x="2250" y="1290.5" width="201.5" height="114.4" overflow="hidden"><g transform="translate(-2250,-1290.5)">
<rect x="2357.5" y="1334.3" width="80" height="26" rx="13.0" fill="#f9f9f9" opacity="0.3" filter="url(#blur6)"/>
<rect x="2364.5" y="1340.8" width="66" height="13" rx="8.0" fill="#e2e2e2" filter="url(#blur4)"/>
<ellipse cx="2377.9" cy="1347.3" rx="16.1" ry="8.0" fill="#f9f9f9" filter="url(#blur4)"/>
<ellipse cx="2417.1" cy="1347.3" rx="16.1" ry="8.0" fill="#f9f9f9" filter="url(#blur4)"/>
<rect x="2261.0" y="1335.0" width="76" height="24" rx="12.0" fill="#5c5c5c" opacity="0.3" filter="url(#blur6)"/>
<rect x="2268.0" y="1341.5" width="62" height="11" rx="7.0" fill="#5b5b5b" filter="url(#blur4)"/>
<ellipse cx="2280.52" cy="1347" rx="15.180000000000001" ry="7.0" fill="#5c5c5c" filter="url(#blur4)"/>
<ellipse cx="2317.48" cy="1347" rx="15.180000000000001" ry="7.0" fill="#5c5c5c" filter="url(#blur4)"/>
</g></svg>
<text x="2086.5" y="1333.3" font-size="38.5" text-anchor="middle" fill="#111">LOC105339975</text>
<text x="2086.5" y="1381.5" font-size="38.5" text-anchor="middle" fill="#111">(Forkhead)</text>
<rect x="1673" y="1435" width="201.5" height="114.4" fill="#545454"/>
<svg x="1673" y="1435" width="201.5" height="114.4" overflow="hidden"><g transform="translate(-1673,-1435)">
<rect x="1689.0" y="1480.0" width="78" height="30" rx="15.0" fill="#ffffff" opacity="0.3" filter="url(#blur6)"/>
<rect x="1696.0" y="1486.5" width="64" height="17" rx="10.0" fill="#e7e7e7" filter="url(#blur4)"/>
<ellipse cx="1708.96" cy="1495" rx="15.64" ry="10.0" fill="#ffffff" filter="url(#blur4)"/>
<ellipse cx="1747.04" cy="1495" rx="15.64" ry="10.0" fill="#ffffff" filter="url(#blur4)"/>
<rect x="1788.0" y="1478.0" width="72" height="24" rx="12.0" fill="#878787" opacity="0.3" filter="url(#blur6)"/>
<rect x="1795.0" y="1484.5" width="58" height="11" rx="7.0" fill="#808080" filter="url(#blur4)"/>
<ellipse cx="1806.64" cy="1490" rx="14.26" ry="7.0" fill="#878787" filter="url(#blur4)"/>
<ellipse cx="1841.36" cy="1490" rx="14.26" ry="7.0" fill="#878787" filter="url(#blur4)"/>
</g></svg>
<text x="1509" y="1477.8" font-size="38.5" text-anchor="middle" fill="#111">LOC105333922</text>
<text x="1509" y="1526" font-size="38.5" text-anchor="middle" fill="#111">(Forkhead)</text>
<rect x="2250" y="1435" width="201.5" height="114.4" fill="#545454"/>
<svg x="2250" y="1435" width="201.5" height="114.4" overflow="hidden"><g transform="translate(-2250,-1435)">
<rect x="2359.0" y="1474.6" width="84" height="32" rx="16.0" fill="#ffffff" opacity="0.3" filter="url(#blur6)"/>
<rect x="2366.0" y="1481.1" width="70" height="19" rx="11.0" fill="#e7e7e7" filter="url(#blur4)"/>
<ellipse cx="2380.28" cy="1490.6" rx="17.02" ry="11.0" fill="#ffffff" filter="url(#blur4)"/>
<ellipse cx="2421.72" cy="1490.6" rx="17.02" ry="11.0" fill="#ffffff" filter="url(#blur4)"/>
<rect x="2262.0" y="1478.0" width="76" height="24" rx="12.0" fill="#5c5c5c" opacity="0.3" filter="url(#blur6)"/>
<rect x="2269.0" y="1484.5" width="62" height="11" rx="7.0" fill="#5b5b5b" filter="url(#blur4)"/>
<ellipse cx="2281.52" cy="1490" rx="15.180000000000001" ry="7.0" fill="#5c5c5c" filter="url(#blur4)"/>
<ellipse cx="2318.48" cy="1490" rx="15.180000000000001" ry="7.0" fill="#5c5c5c" filter="url(#blur4)"/>
</g></svg>
<text x="2086.5" y="1477.8" font-size="38.5" text-anchor="middle" fill="#111">LOC105330008</text>
<text x="2086.5" y="1526" font-size="38.5" text-anchor="middle" fill="#111">(PRDM9)</text>
<rect x="1673" y="1578.5" width="201.5" height="114.4" fill="#545454"/>
<svg x="1673" y="1578.5" width="201.5" height="114.4" overflow="hidden"><g transform="translate(-1673,-1578.5)">
<rect x="1692.0" y="1623.5" width="74" height="28" rx="14.0" fill="#e5e5e5" opacity="0.3" filter="url(#blur6)"/>
<rect x="1699.0" y="1630.0" width="60" height="15" rx="9.0" fill="#d1d1d1" filter="url(#blur4)"/>
<ellipse cx="1711.08" cy="1637.5" rx="14.72" ry="9.0" fill="#e5e5e5" filter="url(#blur4)"/>
<ellipse cx="1746.92" cy="1637.5" rx="14.72" ry="9.0" fill="#e5e5e5" filter="url(#blur4)"/>
</g></svg>
<text x="1509" y="1621.3" font-size="38.5" text-anchor="middle" fill="#111">LOC105340741</text>
<text x="1509" y="1669.5" font-size="38.5" text-anchor="middle" fill="#111">(GATA)</text>
<rect x="2250" y="1578.5" width="201.5" height="114.4" fill="#545454"/>
<svg x="2250" y="1578.5" width="201.5" height="114.4" overflow="hidden"><g transform="translate(-2250,-1578.5)">
<rect x="2363.0" y="1623.9" width="76" height="29" rx="14.5" fill="#ffffff" opacity="0.3" filter="url(#blur6)"/>
<rect x="2370.0" y="1630.4" width="62" height="16" rx="9.5" fill="#e7e7e7" filter="url(#blur4)"/>
<ellipse cx="2382.52" cy="1638.4" rx="15.180000000000001" ry="9.5" fill="#ffffff" filter="url(#blur4)"/>
<ellipse cx="2419.48" cy="1638.4" rx="15.180000000000001" ry="9.5" fill="#ffffff" filter="url(#blur4)"/>
</g></svg>
<text x="2086.5" y="1621.3" font-size="38.5" text-anchor="middle" fill="#111">LOC105341625</text>
<text x="2086.5" y="1669.5" font-size="38.5" text-anchor="middle" fill="#111">(C2H2)</text>
<rect x="1673" y="1723" width="201.5" height="114.4" fill="#545454"/>
<svg x="1673" y="1723" width="201.5" height="114.4" overflow="hidden"><g transform="translate(-1673,-1723)">
<rect x="1688.0" y="1766.0" width="76" height="30" rx="15.0" fill="#ffffff" opacity="0.3" filter="url(#blur6)"/>
<rect x="1695.0" y="1772.5" width="62" height="17" rx="10.0" fill="#e7e7e7" filter="url(#blur4)"/>
<ellipse cx="1707.52" cy="1781" rx="15.180000000000001" ry="10.0" fill="#ffffff" filter="url(#blur4)"/>
<ellipse cx="1744.48" cy="1781" rx="15.180000000000001" ry="10.0" fill="#ffffff" filter="url(#blur4)"/>
<rect x="1785.0" y="1765.5" width="74" height="24" rx="12.0" fill="#838383" opacity="0.3" filter="url(#blur6)"/>
<rect x="1792.0" y="1772.0" width="60" height="11" rx="7.0" fill="#7d7d7d" filter="url(#blur4)"/>
<ellipse cx="1804.08" cy="1777.5" rx="14.72" ry="7.0" fill="#838383" filter="url(#blur4)"/>
<ellipse cx="1839.92" cy="1777.5" rx="14.72" ry="7.0" fill="#838383" filter="url(#blur4)"/>
</g></svg>
<text x="1509" y="1765.8" font-size="38.5" text-anchor="middle" fill="#111">LOC105324294</text>
<text x="1509" y="1814" font-size="38.5" text-anchor="middle" fill="#111">(BTB)</text>
<rect x="2250" y="1723" width="201.5" height="114.4" fill="url(#gel5)"/>
<svg x="2250" y="1723" width="201.5" height="114.4" overflow="hidden"><g transform="translate(-2250,-1723)">
<rect x="2352.0" y="1766.5" width="82" height="32" rx="16.0" fill="#ffffff" opacity="0.3" filter="url(#blur6)"/>
<rect x="2359.0" y="1773.0" width="68" height="19" rx="11.0" fill="#f1f1f1" filter="url(#blur4)"/>
<ellipse cx="2372.84" cy="1782.5" rx="16.560000000000002" ry="11.0" fill="#ffffff" filter="url(#blur4)"/>
<ellipse cx="2413.16" cy="1782.5" rx="16.560000000000002" ry="11.0" fill="#ffffff" filter="url(#blur4)"/>
</g></svg>
<text x="2086.5" y="1765.8" font-size="38.5" text-anchor="middle" fill="#111">LOC109617431</text>
<text x="2086.5" y="1814" font-size="38.5" text-anchor="middle" fill="#111">(C2H2)</text>
<circle cx="2278" cy="1393" r="1.6" fill="#dddddd"/>
<text x="30" y="2008" font-size="58" text-anchor="start" font-weight="bold" fill="#111">(E)</text>
<rect x="269.5" y="2048.4" width="41" height="285.61664999999994" fill="#f2a6c1" stroke="#1a1a1a" stroke-width="2.6"/>
<rect x="330.5" y="2048.4" width="41" height="155.79089999999997" fill="#79bd55" stroke="#1a1a1a" stroke-width="2.6"/>
<rect x="391.5" y="2048.4" width="41" height="167.03565000000026" fill="#97a7d3" stroke="#1a1a1a" stroke-width="2.6"/>
<line x1="290.0" y1="2334.01665" x2="290.0" y2="2353.0305000000003" stroke="#111" stroke-width="2.8"/>
<line x1="280.5" y1="2353.0305000000003" x2="299.5" y2="2353.0305000000003" stroke="#111" stroke-width="3.2"/>
<rect x="248.5" y="2048.4" width="204" height="408.9000000000001" fill="none" stroke="#111" stroke-width="3.2"/>
<line x1="235.0" y1="2048.4" x2="248.5" y2="2048.4" stroke="#111" stroke-width="3.2"/>
<text x="219.0" y="2062.9" font-size="39" text-anchor="end" fill="#111">0</text>
<line x1="235.0" y1="2150.625" x2="248.5" y2="2150.625" stroke="#111" stroke-width="3.2"/>
<text x="219.0" y="2165.125" font-size="39" text-anchor="end" fill="#111">−5</text>
<line x1="235.0" y1="2252.8500000000004" x2="248.5" y2="2252.8500000000004" stroke="#111" stroke-width="3.2"/>
<text x="219.0" y="2267.3500000000004" font-size="39" text-anchor="end" fill="#111">−10</text>
<line x1="235.0" y1="2355.0750000000003" x2="248.5" y2="2355.0750000000003" stroke="#111" stroke-width="3.2"/>
<text x="219.0" y="2369.5750000000003" font-size="39" text-anchor="end" fill="#111">−15</text>
<line x1="235.0" y1="2457.3" x2="248.5" y2="2457.3" stroke="#111" stroke-width="3.2"/>
<text x="219.0" y="2471.8" font-size="39" text-anchor="end" fill="#111">−20</text>
<line x1="350.5" y1="2457.3" x2="350.5" y2="2471.3" stroke="#111" stroke-width="3.2"/>
<text x="350.5" y="2516.5" font-size="39" text-anchor="middle" fill="#111">LOC105340436</text>
<rect x="650" y="2048.4" width="41" height="334.2076000000002" fill="#f2a6c1" stroke="#1a1a1a" stroke-width="2.6"/>
<rect x="711" y="2048.4" width="41" height="169.82979999999998" fill="#79bd55" stroke="#1a1a1a" stroke-width="2.6"/>
<rect x="772" y="2048.4" width="41" height="161.92439999999988" fill="#97a7d3" stroke="#1a1a1a" stroke-width="2.6"/>
<line x1="670.5" y1="2382.6076000000003" x2="670.5" y2="2414.5018" stroke="#111" stroke-width="2.8"/>
<line x1="661.0" y1="2414.5018" x2="680.0" y2="2414.5018" stroke="#111" stroke-width="3.2"/>
<rect x="629" y="2048.4" width="204" height="408.9000000000001" fill="none" stroke="#111" stroke-width="3.2"/>
<line x1="610" y1="2048.4" x2="629" y2="2048.4" stroke="#111" stroke-width="3.2"/>
<text x="594.5" y="2062.9" font-size="39" text-anchor="end" fill="#111">0</text>
<line x1="610" y1="2184.7000000000003" x2="629" y2="2184.7000000000003" stroke="#111" stroke-width="3.2"/>
<text x="594.5" y="2199.2000000000003" font-size="39" text-anchor="end" fill="#111">−5</text>
<line x1="610" y1="2321.0" x2="629" y2="2321.0" stroke="#111" stroke-width="3.2"/>
<text x="594.5" y="2335.5" font-size="39" text-anchor="end" fill="#111">−10</text>
<line x1="610" y1="2457.3" x2="629" y2="2457.3" stroke="#111" stroke-width="3.2"/>
<text x="594.5" y="2471.8" font-size="39" text-anchor="end" fill="#111">−15</text>
<line x1="731.0" y1="2457.3" x2="731.0" y2="2471.3" stroke="#111" stroke-width="3.2"/>
<text x="731.0" y="2516.5" font-size="39" text-anchor="middle" fill="#111">LOC105340741</text>
<rect x="1029.3" y="2048.4" width="41" height="285.6848" fill="#f2a6c1" stroke="#1a1a1a" stroke-width="2.6"/>
<rect x="1090.3" y="2048.4" width="41" height="159.74360000000024" fill="#79bd55" stroke="#1a1a1a" stroke-width="2.6"/>
<rect x="1151.3" y="2048.4" width="41" height="137.39039999999977" fill="#97a7d3" stroke="#1a1a1a" stroke-width="2.6"/>
<line x1="1049.8" y1="2334.0848" x2="1049.8" y2="2342.2628" stroke="#111" stroke-width="2.8"/>
<line x1="1040.3" y1="2342.2628" x2="1059.3" y2="2342.2628" stroke="#111" stroke-width="3.2"/>
<rect x="1008.3" y="2048.4" width="204" height="408.9000000000001" fill="none" stroke="#111" stroke-width="3.2"/>
<line x1="989.3" y1="2048.4" x2="1008.3" y2="2048.4" stroke="#111" stroke-width="3.2"/>
<text x="973.8" y="2062.9" font-size="39" text-anchor="end" fill="#111">0</text>
<line x1="989.3" y1="2184.7000000000003" x2="1008.3" y2="2184.7000000000003" stroke="#111" stroke-width="3.2"/>
<text x="973.8" y="2199.2000000000003" font-size="39" text-anchor="end" fill="#111">−5</text>
<line x1="989.3" y1="2321.0" x2="1008.3" y2="2321.0" stroke="#111" stroke-width="3.2"/>
<text x="973.8" y="2335.5" font-size="39" text-anchor="end" fill="#111">−10</text>
<line x1="989.3" y1="2457.3" x2="1008.3" y2="2457.3" stroke="#111" stroke-width="3.2"/>
<text x="973.8" y="2471.8" font-size="39" text-anchor="end" fill="#111">−15</text>
<line x1="1110.3" y1="2457.3" x2="1110.3" y2="2471.3" stroke="#111" stroke-width="3.2"/>
<text x="1110.3" y="2516.5" font-size="39" text-anchor="middle" fill="#111">LOC105324294</text>
<rect x="1397.1" y="2123.6376" width="41" height="333.66240000000016" fill="#f2a6c1" stroke="#1a1a1a" stroke-width="2.6"/>
<rect x="1458.1" y="2184.7000000000003" width="41" height="272.5999999999999" fill="#79bd55" stroke="#1a1a1a" stroke-width="2.6"/>
<rect x="1519.1" y="2250.6692000000003" width="41" height="206.6307999999999" fill="#97a7d3" stroke="#1a1a1a" stroke-width="2.6"/>
<line x1="1417.6" y1="2123.6376" x2="1417.6" y2="2087.1092" stroke="#111" stroke-width="2.8"/>
<line x1="1408.1" y1="2087.1092" x2="1427.1" y2="2087.1092" stroke="#111" stroke-width="3.2"/>
<rect x="1376.1" y="2048.4" width="204" height="408.9000000000001" fill="none" stroke="#111" stroke-width="3.2"/>
<line x1="1357.1" y1="2457.3" x2="1376.1" y2="2457.3" stroke="#111" stroke-width="3.2"/>
<text x="1341.6" y="2471.8" font-size="39" text-anchor="end" fill="#111">0</text>
<line x1="1357.1" y1="2321.0" x2="1376.1" y2="2321.0" stroke="#111" stroke-width="3.2"/>
<text x="1341.6" y="2335.5" font-size="39" text-anchor="end" fill="#111">5</text>
<line x1="1357.1" y1="2184.7000000000003" x2="1376.1" y2="2184.7000000000003" stroke="#111" stroke-width="3.2"/>
<text x="1341.6" y="2199.2000000000003" font-size="39" text-anchor="end" fill="#111">10</text>
<line x1="1357.1" y1="2048.4" x2="1376.1" y2="2048.4" stroke="#111" stroke-width="3.2"/>
<text x="1341.6" y="2062.9" font-size="39" text-anchor="end" fill="#111">15</text>
<line x1="1478.1" y1="2457.3" x2="1478.1" y2="2471.3" stroke="#111" stroke-width="3.2"/>
<text x="1478.1" y="2516.5" font-size="39" text-anchor="middle" fill="#111">LOC105331364</text>
<rect x="1742" y="2106.66825" width="41" height="350.63175" fill="#f2a6c1" stroke="#1a1a1a" stroke-width="2.6"/>
<rect x="1803" y="2078.04525" width="41" height="379.25475000000006" fill="#79bd55" stroke="#1a1a1a" stroke-width="2.6"/>
<rect x="1864" y="2130.6911250000003" width="41" height="326.6088749999999" fill="#97a7d3" stroke="#1a1a1a" stroke-width="2.6"/>
<line x1="1762.5" y1="2106.66825" x2="1762.5" y2="2073.445125" stroke="#111" stroke-width="2.8"/>
<line x1="1753.0" y1="2073.445125" x2="1772.0" y2="2073.445125" stroke="#111" stroke-width="3.2"/>
<rect x="1721" y="2048.4" width="204" height="408.9000000000001" fill="none" stroke="#111" stroke-width="3.2"/>
<line x1="1702" y1="2457.3" x2="1721" y2="2457.3" stroke="#111" stroke-width="3.2"/>
<text x="1686.5" y="2471.8" font-size="39" text-anchor="end" fill="#111">0</text>
<line x1="1702" y1="2355.0750000000003" x2="1721" y2="2355.0750000000003" stroke="#111" stroke-width="3.2"/>
<text x="1686.5" y="2369.5750000000003" font-size="39" text-anchor="end" fill="#111">2</text>
<line x1="1702" y1="2252.8500000000004" x2="1721" y2="2252.8500000000004" stroke="#111" stroke-width="3.2"/>
<text x="1686.5" y="2267.3500000000004" font-size="39" text-anchor="end" fill="#111">4</text>
<line x1="1702" y1="2150.625" x2="1721" y2="2150.625" stroke="#111" stroke-width="3.2"/>
<text x="1686.5" y="2165.125" font-size="39" text-anchor="end" fill="#111">6</text>
<line x1="1702" y1="2048.4" x2="1721" y2="2048.4" stroke="#111" stroke-width="3.2"/>
<text x="1686.5" y="2062.9" font-size="39" text-anchor="end" fill="#111">8</text>
<line x1="1823.0" y1="2457.3" x2="1823.0" y2="2471.3" stroke="#111" stroke-width="3.2"/>
<text x="1823.0" y="2516.5" font-size="39" text-anchor="middle" fill="#111">LOC105330008</text>
<text transform="translate(130,2252.5) rotate(-90)" x="0" y="0" font-size="39" text-anchor="middle" fill="#111">Log2 (FC)</text>
<rect x="1999.5" y="2186.5" width="40.5" height="40.5" fill="#f2a6c1" stroke="#1a1a1a" stroke-width="2.5"/>
<text x="2068.5" y="2217.0" font-size="38.6" fill="#111">qRT-PCR</text>
<rect x="1999.5" y="2259.3" width="40.5" height="40.5" fill="#79bd55" stroke="#1a1a1a" stroke-width="2.5"/>
<text x="2068.5" y="2289.8" font-size="38.6" fill="#111">RNA-seq (<tspan font-style="italic">C. sikamea</tspan>)</text>
<rect x="1999.5" y="2332.1" width="40.5" height="40.5" fill="#97a7d3" stroke="#1a1a1a" stroke-width="2.5"/>
<text x="2068.5" y="2362.6" font-size="38.6" fill="#111">RNA-seq (<tspan font-style="italic">C. gigas</tspan>)</text>
</svg>
</body></html>
